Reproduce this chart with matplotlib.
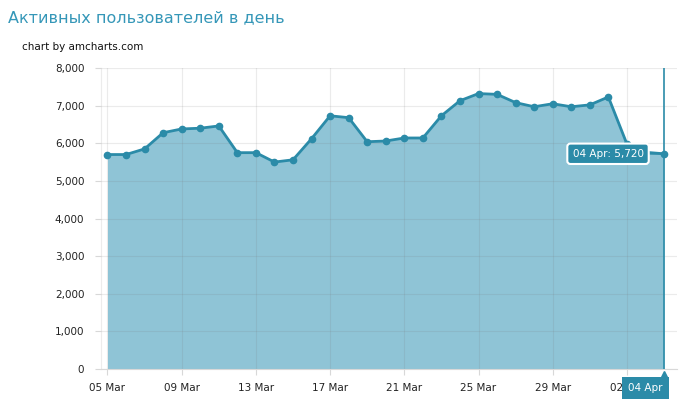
import numpy as np
import pandas as pd
import matplotlib.pyplot as plt
import matplotlib.transforms as mtrans
from matplotlib.ticker import FuncFormatter

# данные
dates = pd.date_range('2014-03-05', '2014-04-04', freq='D')
users = [5700, 5700, 5850, 6280, 6380, 6400, 6460, 5750, 5750, 5500, 5560,
         6120, 6730, 6680, 6040, 6060, 6140, 6140, 6730, 7130, 7320, 7300,
         7080, 6970, 7050, 6970, 7020, 7230, 5980, 5760, 5720]
tick_dates = dates[::4]
tick_labels = [d.strftime('%d %b') for d in tick_dates]
y_ticks = [0, 1000, 2000, 3000, 4000, 5000, 6000, 7000, 8000]

title = 'Активных пользователей в день'
credit = 'chart by amcharts.com'

line_c = '#2b8ba8'
fill_c = '#8fc4d6'
title_c = '#3597b8'

fig = plt.figure(figsize=(6.79, 4.17), dpi=100)
W, H = 679, 417
left, right, top, bottom = 101, 677, 68, 369
ax = fig.add_axes([left / W, (H - bottom) / H, (right - left) / W, (bottom - top) / H])

x = np.arange(len(dates))
ax.fill_between(x, users, 0, color=fill_c, lw=0, zorder=1)
ax.plot(x, users, color=line_c, lw=2, marker='o', ms=4.5, zorder=4)

ax.set_xlim(-0.35, 30.7)
ax.set_ylim(0, 8000)
ax.set_yticks(y_ticks)
ax.yaxis.set_major_formatter(FuncFormatter(lambda v, p: f'{int(v):,}'))
ax.set_xticks(np.arange(0, len(dates), 4))
ax.set_xticklabels(tick_labels)

ax.grid(True, color='#7a7a7a', alpha=0.15, lw=0.8, zorder=2)
ax.set_axisbelow(False)
for s in ['top', 'right']:
    ax.spines[s].set_visible(False)
ax.spines['bottom'].set_color('#d8d8d8')
ax.spines['left'].set_color('#ececec')
ax.tick_params(axis='y', length=4, color='#d8d8d8', pad=8, labelsize=7.5, colors='#222222')
ax.tick_params(axis='x', length=4, color='#d8d8d8', pad=6, labelsize=7.5, labelcolor='#222222')

# курсор
last = x[-1]
ax.axvline(last, color=line_c, lw=1.2, zorder=5)

ax.annotate(f'{dates[-1].strftime("%d %b")}: {users[-1]:,}',
            xy=(last, users[-1]), xytext=(-56, 0), textcoords='offset pixels',
            ha='center', va='center', color='white', fontsize=7.5, zorder=6,
            bbox=dict(boxstyle='round,pad=0.5,rounding_size=0.3', fc=line_c, ec='white', lw=1.5),
            arrowprops=dict(arrowstyle='-', color=line_c, lw=1.2, shrinkA=0, shrinkB=0))

ax.annotate(dates[-1].strftime('%d %b'), xy=(last, 0), xytext=(-19, -19),
            textcoords='offset pixels', ha='center', va='center', color='white',
            fontsize=7.5, zorder=7, annotation_clip=False,
            bbox=dict(boxstyle='square,pad=0.6', fc=line_c, ec='none'))
tri = ax.transData + mtrans.ScaledTranslation(0, -4 / 72, fig.dpi_scale_trans)
ax.plot([last], [0], marker='^', ms=6, color=line_c, transform=tri, clip_on=False, zorder=7)

fig.text(8 / W, 1 - 18 / H, title, color=title_c, fontsize=11.5, va='center', ha='left')
fig.text(22 / W, 1 - 47 / H, credit, color='#111111', fontsize=7.5, va='center', ha='left')

plt.savefig('out.png', dpi=100)
